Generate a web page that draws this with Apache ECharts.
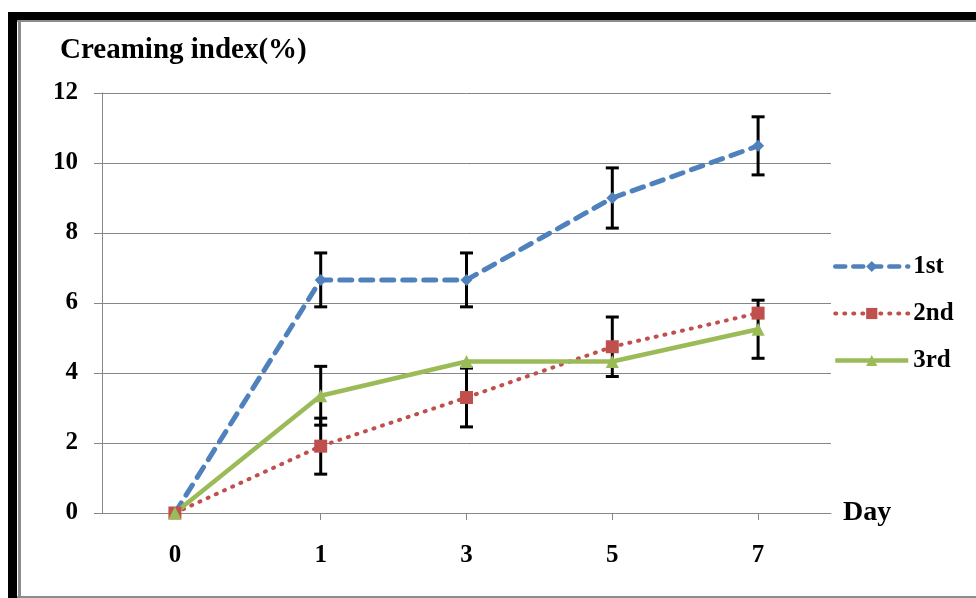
<!DOCTYPE html>
<html>
<head>
<meta charset="utf-8">
<script src="https://cdn.jsdelivr.net/npm/echarts@6/dist/echarts.min.js"></script>
<style>
  html, body { margin: 0; padding: 0; background: #fff; }
  #chart { width: 976px; height: 598px; }
</style>
</head>
<body>
<div id="chart"></div>
<script>
// ---- data ----
const categories = ['0', '1', '3', '5', '7'];
const yTicks = [0, 2, 4, 6, 8, 10, 12];
const seriesNames = ['1st', '2nd', '3rd'];
const first  = [0, 6.66, 6.66, 9.0, 10.49];
const second = [0, 1.91, 3.30, 4.75, 5.71];
const third  = [0, 3.35, 4.33, 4.33, 5.25];
const firstErr  = [0, 0.77, 0.77, 0.86, 0.83];
const secondErr = [0, 0.80, 0.84, 0.85, 0];
const thirdErr  = [0, 0.84, 0, 0, 0.83];

const FONT = "'Times New Roman', 'Liberation Serif', serif";
const GRID_GRAY = '#868686';
const BLUE = '#4F81BD', RED = '#C0504D', GREEN = '#9BBB59';

function errData(vals, errs) {
  const out = [];
  vals.forEach((v, i) => {
    if (errs[i] > 0) out.push([i, v - errs[i], v + errs[i]]);
  });
  return out;
}

function errSeries(name, vals, errs) {
  return {
    name: name,
    type: 'custom',
    z: 1,
    silent: true,
    data: errData(vals, errs),
    encode: { x: 0, y: [1, 2] },
    renderItem: function (params, api) {
      const lo = api.coord([api.value(0), api.value(1)]);
      const hi = api.coord([api.value(0), api.value(2)]);
      const half = 6.5;
      const style = { stroke: '#000', lineWidth: 3 };
      return {
        type: 'group',
        children: [
          { type: 'line', shape: { x1: lo[0], y1: lo[1], x2: hi[0], y2: hi[1] }, style: style },
          { type: 'line', shape: { x1: lo[0] - half, y1: lo[1], x2: lo[0] + half, y2: lo[1] }, style: style },
          { type: 'line', shape: { x1: hi[0] - half, y1: hi[1], x2: hi[0] + half, y2: hi[1] }, style: style }
        ]
      };
    }
  };
}

const chart = echarts.init(document.getElementById('chart'), null, { renderer: 'canvas' });

const option = {
  backgroundColor: '#fff',
  animation: false,
  title: {
    text: 'Creaming index(%)',
    left: 55,
    top: 31,
    textStyle: { fontFamily: FONT, fontWeight: 'bold', fontSize: 29, color: '#000' }
  },
  legend: {
    orient: 'vertical',
    left: 828,
    top: 249,
    itemWidth: 73,
    itemHeight: 14,
    itemGap: 22,
    data: [
      { name: seriesNames[0], lineStyle: { color: BLUE, width: 4.5, type: [10, 8], cap: 'round' } },
      { name: seriesNames[1], lineStyle: { color: RED, width: 4, type: [1, 8], cap: 'round' } },
      { name: seriesNames[2], lineStyle: { color: GREEN, width: 4.5, type: 'solid' } }
    ],
    textStyle: { fontFamily: FONT, fontWeight: 'bold', fontSize: 25, color: '#000', padding: [0, 0, 0, 0] }
  },
  grid: { left: 102, right: 145, top: 93, bottom: 85, containLabel: false },
  xAxis: {
    type: 'category',
    data: categories,
    boundaryGap: true,
    name: 'Day',
    nameLocation: 'end',
    nameGap: 12,
    nameTextStyle: { fontFamily: FONT, fontWeight: 'bold', fontSize: 28, color: '#000' },
    axisLine: { show: true, lineStyle: { color: GRID_GRAY, width: 1 } },
    axisTick: {
      show: true,
      alignWithLabel: true,
      length: 7,
      interval: function (index) { return index !== 0; },
      lineStyle: { color: GRID_GRAY }
    },
    axisLabel: { margin: 30, fontFamily: FONT, fontWeight: 'bold', fontSize: 25, color: '#000' },
    splitLine: { show: false }
  },
  yAxis: {
    type: 'value',
    min: yTicks[0],
    max: yTicks[yTicks.length - 1],
    interval: 2,
    axisLine: { show: true, lineStyle: { color: GRID_GRAY, width: 1 } },
    axisTick: { show: true, length: 8, lineStyle: { color: GRID_GRAY } },
    axisLabel: { margin: 24, fontFamily: FONT, fontWeight: 'bold', fontSize: 25, color: '#000' },
    splitLine: { show: true, lineStyle: { color: GRID_GRAY, width: 1 } }
  },
  graphic: [
    { type: 'rect', shape: { x: 8, y: 12, width: 968, height: 8 }, style: { fill: '#000' }, silent: true },
    { type: 'rect', shape: { x: 8, y: 12, width: 9, height: 586 }, style: { fill: '#000' }, silent: true },
    { type: 'rect', shape: { x: 17, y: 20, width: 959, height: 2 }, style: { fill: '#8c8c8c' }, silent: true },
    { type: 'rect', shape: { x: 18, y: 20, width: 3, height: 578 }, style: { fill: '#8c8c8c' }, silent: true },
    { type: 'rect', shape: { x: 17, y: 596, width: 959, height: 2 }, style: { fill: '#8c8c8c' }, silent: true }
  ],
  series: [
    errSeries('1st err', first, firstErr),
    errSeries('2nd err', second, secondErr),
    errSeries('3rd err', third, thirdErr),
    {
      name: seriesNames[0],
      type: 'line',
      z: 3,
      data: first,
      symbol: 'diamond',
      symbolSize: 12,
      color: BLUE,
      lineStyle: { color: BLUE, width: 5, type: [12, 9], cap: 'round' },
      itemStyle: { color: BLUE }
    },
    {
      name: seriesNames[1],
      type: 'line',
      z: 3,
      data: second,
      symbol: 'rect',
      symbolSize: 13,
      color: RED,
      lineStyle: { color: RED, width: 4, type: [1, 8], cap: 'round' },
      itemStyle: { color: RED }
    },
    {
      name: seriesNames[2],
      type: 'line',
      z: 3,
      data: third,
      symbol: 'triangle',
      symbolSize: 13,
      color: GREEN,
      lineStyle: { color: GREEN, width: 4.5, type: 'solid' },
      itemStyle: { color: GREEN }
    }
  ]
};

chart.setOption(option);
</script>
</body>
</html>
